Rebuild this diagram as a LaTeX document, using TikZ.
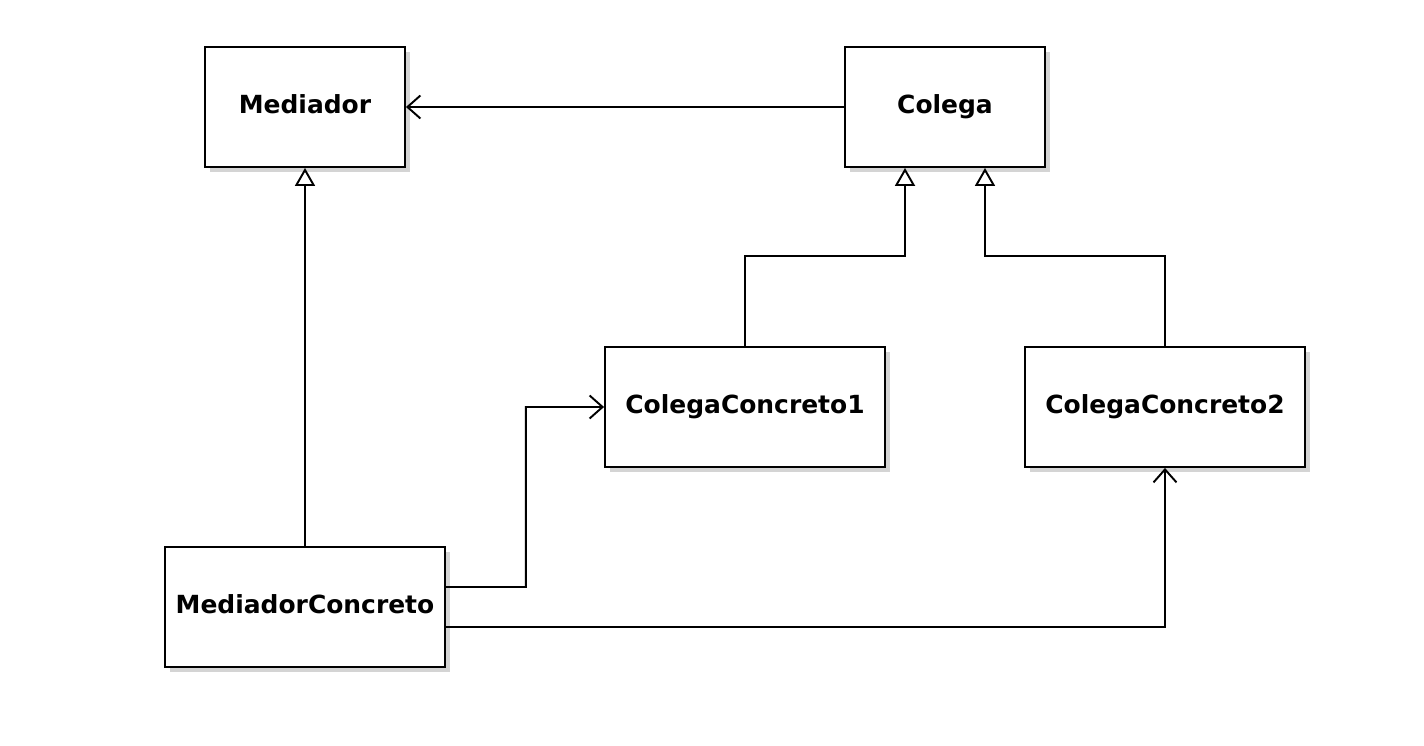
\documentclass[tikz,border=0pt]{standalone}
\usepackage{fontspec}
\setmainfont{DejaVu Sans}
\usetikzlibrary{arrows.meta,positioning,shadows}
\definecolor{shade}{HTML}{D4D4D4}
\tikzset{
  cls/.style={draw=black,fill=white,line width=1.1pt,
    minimum width=4cm,minimum height=2.4cm,font=\fontsize{14.2}{16}\selectfont\bfseries,
    text height=0.73em,text depth=0em,
    drop shadow={shadow xshift=0.1cm,shadow yshift=-0.1cm,fill=shade,opacity=1}},
  cls_wide/.style={cls,minimum width=5.6cm},
  assoc/.style={-{Straight Barb[length=0.26cm,width=0.46cm,line width=1.1pt]},line width=1.1pt},
  inherit/.style={-{Triangle[open,length=0.36cm,width=0.4cm,line width=1.1pt]},line width=1.1pt},
}

\begin{document}
\begin{tikzpicture}[x=0.02cm,y=-0.02cm]
  \useasboundingbox (0,0) rectangle (1424,746);

  \node[cls] (med) at (305,107) {Mediador};
  \node[cls] (col) at (945,107) {Colega};
  \node[cls_wide] (cc1) at (745,407) {ColegaConcreto1};
  \node[cls_wide] (cc2) at (1165,407) {ColegaConcreto2};
  \node[cls_wide] (mc) at (305,607) {MediadorConcreto};

  \draw[assoc](col)--(med);
  \draw[inherit](mc)--(med);
  \draw[inherit](cc1.north)--++(0,-90)-|([xshift=-0.8cm]col.south);
  \draw[inherit](cc2.north)--++(0,-90)-|([xshift=0.8cm]col.south);
  \draw[assoc]([yshift=0.4cm]mc.east)-|++(80,-180)--(cc1.west);
  \draw[assoc]([yshift=-0.4cm]mc.east)-|(cc2.south);
\end{tikzpicture}
\end{document}
